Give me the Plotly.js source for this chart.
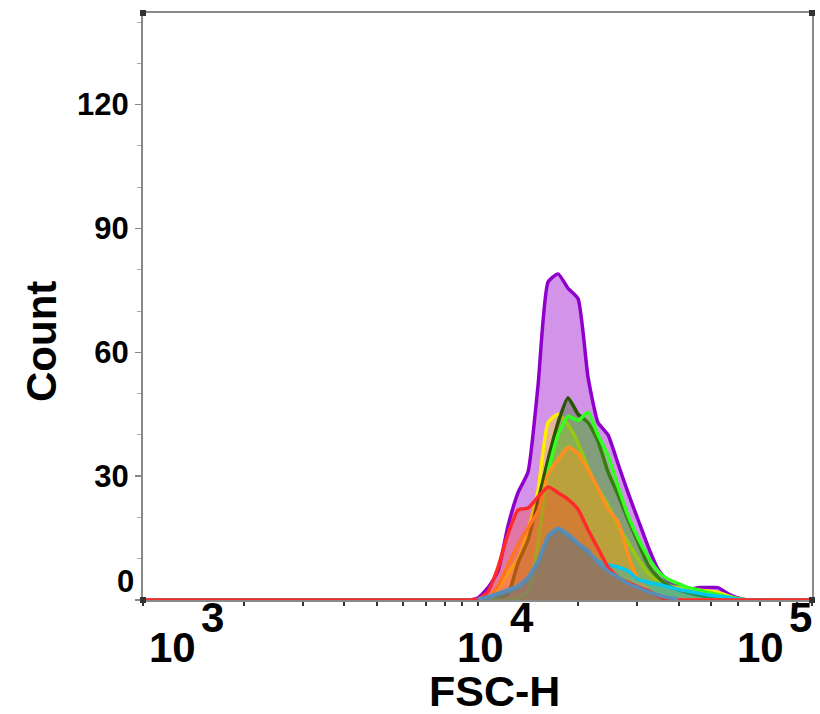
<!DOCTYPE html>
<html>
<head>
<meta charset="utf-8">
<script src="https://cdn.plot.ly/plotly-3.0.1.min.js"></script>
<style>
  html, body { margin: 0; padding: 0; background: #fff; }
  #chart { width: 820px; height: 714px; }
</style>
</head>
<body>
<div id="chart"></div>
<script>
// FSC-H bin centres (linear units)
const fscBins = [1000, 9370, 10030, 10750, 11520, 12340, 13220, 14160, 15170, 16250, 17410, 18650, 19980,
  21400, 22920, 24560, 26310, 28180, 30190, 32340, 34640, 37110, 39760, 42590, 45630,
  48880, 52360, 56090, 60090, 64370, 100000];

// Counts per sample
const purpleCounts = [0, 0, 0.5, 3, 7, 18, 26, 31, 52, 77, 79, 75.5, 73, 54, 43, 40, 33, 26, 19.5, 13, 7.5, 4.5, 3.5, 2.5, 3, 3, 3, 1.5, 0.5, 0, 0];
const yellowCounts = [0, 0, 0, 0.5, 3, 6.5, 10, 17, 26.5, 43, 45, 42.5, 38, 32, 27, 23, 18, 14, 10, 6.5, 4.5, 3.5, 3, 2.7, 2.4, 2.2, 1.8, 1, 0.3, 0, 0];
const darkGreenCounts = [0, 0, 0, 0, 0.5, 1.5, 9, 14.5, 24, 34, 43, 49, 45, 43, 38.5, 31, 25.5, 19.5, 14, 8.5, 5.5, 3.5, 2.5, 1.8, 1.2, 0.8, 0.4, 0, 0, 0, 0];
const limeCounts = [0, 0, 0, 0, 0, 0, 0.5, 2, 14, 31, 40, 44.5, 43.5, 45.5, 40, 35, 27.5, 20.5, 15, 10.5, 7, 5, 4, 3, 2.5, 1.8, 1.3, 0.8, 0.3, 0, 0];
const orangeCounts = [0, 0, 0, 0.5, 3.5, 8.5, 13.5, 17.5, 21.5, 30.5, 34, 37, 35.5, 31.5, 27, 22, 19, 11, 5, 2.5, 1.2, 0.6, 0.2, 0, 0, 0, 0, 0, 0, 0, 0];
const cyanCounts = [0, 0, 0, 0.5, 1.2, 2, 3, 5, 9, 15, 17, 15.5, 13.5, 11.5, 9.5, 8.5, 8, 7, 5, 4.3, 3.8, 3.2, 2.6, 2.1, 1.7, 1.2, 0.9, 0.6, 0.2, 0, 0];
const blueCounts = [0, 0, 0.2, 0.8, 1.6, 2.5, 3.4, 5.5, 9.5, 15.5, 17.4, 16, 13.8, 12, 9, 7, 5.5, 4, 3, 2, 1.2, 0.6, 0.3, 0, 0, 0, 0, 0, 0, 0, 0];
const redCounts = [0, 0, 0.2, 2, 8, 16, 21.8, 22.3, 25, 27.4, 26, 24.4, 22, 17, 12.5, 8, 5.5, 4.2, 3.2, 2.3, 1, 0, 0, 0, 0, 0, 0, 0, 0, 0, 0];

const yTickVals = [0, 30, 60, 90, 120];
const yTickText = ['', '30', '60', '90', '120'];
const zeroLabel = '0';
const xDecades = ['3', '4', '5'];

// blue is drawn last, only over the bins where it has counts, so the red baseline stays visible
const series = [
  {name: 'purple', y: purpleCounts, line: '#9000cc', fill: 'rgba(165,40,210,0.5)'},
  {name: 'yellow', y: yellowCounts, line: '#ffee00', fill: 'rgba(255,225,60,0.45)'},
  {name: 'dark green', y: darkGreenCounts, line: '#2a5500', fill: 'rgba(50,110,20,0.35)'},
  {name: 'lime', y: limeCounts, line: '#33ff22', fill: 'rgba(80,220,40,0.3)'},
  {name: 'orange', y: orangeCounts, line: '#ff9020', fill: 'rgba(255,140,20,0.4)'},
  {name: 'cyan', y: cyanCounts, line: '#00c8f0', fill: 'rgba(0,190,230,0.3)'},
  {name: 'red', y: redCounts, line: '#ff2a2a', fill: 'rgba(255,60,40,0.33)'},
  {name: 'blue', y: blueCounts.map(v => v > 0 ? v : null), line: '#5a8cb8', fill: 'rgba(110,100,110,0.35)'}
];

const traces = series.map(s => ({
  type: 'scatter', mode: 'lines', name: s.name,
  x: fscBins, y: s.y,
  fill: 'tozeroy', fillcolor: s.fill,
  line: {color: s.line, width: 3.5, shape: 'spline', smoothing: 0.5},
  hoverinfo: 'x+y'
}));

const minorVals = [];
[1000, 10000].forEach(d => { for (let k = 2; k <= 9; k++) minorVals.push(k * d); });
const xTickVals = [1000, 10000, 100000].concat(minorVals);

const bold = '"Liberation Sans", Arial, sans-serif';

const annotations = [];
// [log10 position, shift of "10", shift of exponent]
const decPos = [[3, 29, 69], [4, 3, 44], [5, -52, -12]];
decPos.forEach((p, i) => {
  annotations.push({xref: 'x', yref: 'paper', x: p[0], y: 0, text: '<b>10</b>', showarrow: false,
    xanchor: 'center', yanchor: 'middle', xshift: p[1], yshift: -47,
    font: {family: bold, size: 42, color: '#000'}});
  annotations.push({xref: 'x', yref: 'paper', x: p[0], y: 0, text: '<b>' + xDecades[i] + '</b>', showarrow: false,
    xanchor: 'center', yanchor: 'middle', xshift: p[2], yshift: -17,
    font: {family: bold, size: 42, color: '#000'}});
});
annotations.push({xref: 'paper', yref: 'paper', x: (494 - 143) / 669, y: 0, yshift: -91, text: '<b>FSC-H</b>',
  showarrow: false, xanchor: 'center', yanchor: 'middle', font: {family: bold, size: 43, color: '#000'}});
annotations.push({xref: 'paper', yref: 'paper', x: 0, xshift: -102, y: (600 - 342) / 587, text: '<b>Count</b>',
  showarrow: false, textangle: -90, xanchor: 'center', yanchor: 'middle', font: {family: bold, size: 42, color: '#000'}});
annotations.push({xref: 'paper', yref: 'y', x: 0, y: 0, xshift: -7, yshift: 19, text: '<b>' + zeroLabel + '</b>',
  showarrow: false, xanchor: 'right', yanchor: 'middle', font: {family: bold, size: 31, color: '#000'}});

const corners = [[0, 1], [1, 1], [1, 0], [0, 0]].map(c => ({
  type: 'rect', xref: 'paper', yref: 'paper', xsizemode: 'pixel', ysizemode: 'pixel',
  xanchor: c[0], yanchor: c[1], x0: -3, x1: 3, y0: -3, y1: 3,
  fillcolor: '#333', line: {width: 0}, layer: 'above'
}));

const layout = {
  width: 820, height: 714,
  margin: {l: 143, r: 8, t: 13, b: 114},
  paper_bgcolor: '#fff', plot_bgcolor: '#fff',
  showlegend: false,
  xaxis: {
    type: 'log', range: [3, 5], showgrid: false, zeroline: false,
    showline: true, linecolor: '#8a8a8a', linewidth: 2, mirror: true,
    tickmode: 'array', tickvals: xTickVals, ticktext: xTickVals.map(() => ''),
    ticks: 'outside', ticklen: 4, tickwidth: 2, tickcolor: '#333',
    showticklabels: false
  },
  yaxis: {
    range: [0, 142.2], showgrid: false, zeroline: false,
    showline: true, linecolor: '#8a8a8a', linewidth: 2, mirror: true,
    tickmode: 'array', tickvals: yTickVals, ticktext: yTickText,
    ticks: 'outside', ticklen: 6, tickwidth: 1.5, tickcolor: '#888',
    minor: {dtick: 10, ticks: 'outside', ticklen: 4, tickcolor: '#aaa', tickwidth: 1},
    tickfont: {family: bold, size: 31, color: '#000', weight: 'bold'},
    ticklabelstandoff: 0
  },
  annotations: annotations,
  shapes: corners
};

Plotly.newPlot('chart', traces, layout, {displayModeBar: false, staticPlot: true});
</script>
</body>
</html>
